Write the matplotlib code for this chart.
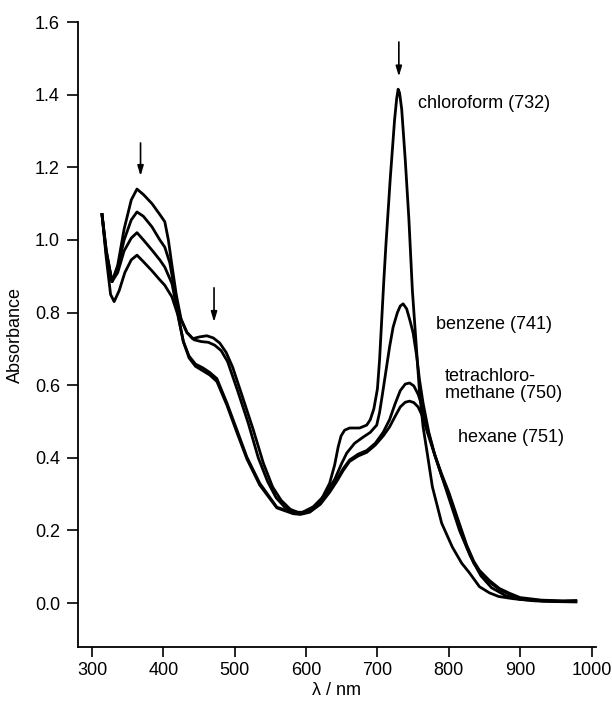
import matplotlib
matplotlib.use("Agg")
import matplotlib.pyplot as plt

# absorbance spectra (wavelength in nm)
wl_chloroform = [314, 320, 328, 336, 345, 355, 363, 372, 384, 395,
                 402, 407, 412, 418, 425, 433, 441, 451, 461, 470,
                 479, 488, 497, 511, 526, 540, 553, 565, 578, 591,
                 605, 620, 633, 640, 645, 649, 654, 661, 675, 685,
                 690, 695, 700, 703, 706, 709, 712, 718, 724, 727,
                 729, 731, 734, 739, 744, 749, 754, 759, 764, 770,
                 777, 790, 805, 818, 829, 843, 857, 870, 890, 920,
                 950, 978]
abs_chloroform = [1.07, 0.97, 0.885, 0.93, 1.03, 1.11, 1.14, 1.125, 1.10, 1.07,
                  1.05, 1.0, 0.93, 0.85, 0.78, 0.745, 0.728, 0.733, 0.736, 0.73,
                  0.716, 0.69, 0.65, 0.567, 0.477, 0.386, 0.32, 0.283, 0.258, 0.248,
                  0.255, 0.28, 0.33, 0.38, 0.43, 0.46, 0.476, 0.482, 0.482, 0.49,
                  0.505, 0.535, 0.59, 0.67, 0.78, 0.89, 0.99, 1.17, 1.33, 1.39,
                  1.415, 1.405, 1.36, 1.22, 1.06, 0.86, 0.72, 0.58, 0.485, 0.41,
                  0.32, 0.22, 0.154, 0.11, 0.083, 0.045, 0.028, 0.018, 0.012, 0.006,
                  0.004, 0.003]

wl_benzene = [314, 320, 328, 336, 345, 355, 363, 372, 384, 395,
              402, 409, 415, 423, 433, 443, 453, 463, 472, 481,
              490, 504, 519, 533, 546, 558, 571, 584, 595, 610,
              625, 640, 650, 657, 668, 680, 690, 699, 703, 707,
              712, 717, 722, 728, 732, 736, 741, 746, 750, 755,
              759, 764, 772, 780, 790, 800, 815, 830, 845, 860,
              880, 900, 930, 960, 978]
abs_benzene = [1.07, 0.97, 0.885, 0.925, 1.0, 1.055, 1.077, 1.065, 1.036, 1.0,
               0.98, 0.937, 0.87, 0.79, 0.745, 0.725, 0.72, 0.718, 0.71, 0.695,
               0.665, 0.585, 0.495, 0.40, 0.335, 0.29, 0.262, 0.25, 0.25, 0.265,
               0.295, 0.34, 0.385, 0.413, 0.44, 0.457, 0.47, 0.49, 0.525, 0.575,
               0.64, 0.705, 0.76, 0.80, 0.818, 0.824, 0.81, 0.775, 0.744, 0.68,
               0.614, 0.55, 0.47, 0.41, 0.35, 0.29, 0.20, 0.13, 0.075, 0.042,
               0.02, 0.01, 0.006, 0.005, 0.005]

wl_tetra = [314, 320, 328, 336, 345, 355, 363, 372, 384, 395,
            402, 412, 420, 428, 436, 445, 455, 465, 475, 489,
            503, 517, 535, 559, 582, 592, 605, 620, 633, 643,
            652, 661, 673, 685, 697, 708, 717, 725, 732, 739,
            745, 751, 757, 763, 770, 780, 790, 800, 812, 825,
            835, 843, 857, 871, 885, 900, 930, 960, 978]
abs_tetra = [1.07, 0.96, 0.885, 0.91, 0.97, 1.005, 1.02, 1.0, 0.972, 0.945,
             0.925, 0.88, 0.80, 0.72, 0.68, 0.658, 0.648, 0.635, 0.618, 0.551,
             0.477, 0.402, 0.33, 0.264, 0.248, 0.246, 0.252, 0.275, 0.31, 0.34,
             0.37, 0.394, 0.41, 0.42, 0.44, 0.47, 0.505, 0.55, 0.585, 0.603,
             0.606, 0.598, 0.575, 0.54, 0.48, 0.41, 0.35, 0.30, 0.23, 0.155,
             0.11, 0.085, 0.058, 0.037, 0.024, 0.013, 0.006, 0.004, 0.004]

wl_hexane = [314, 320, 326, 331, 338, 346, 355, 363, 372, 384,
             395, 402, 412, 420, 428, 436, 445, 455, 465, 475,
             489, 503, 517, 535, 559, 582, 592, 605, 620, 633,
             643, 652, 661, 673, 685, 697, 708, 717, 725, 732,
             739, 745, 751, 757, 763, 770, 780, 790, 800, 812,
             825, 835, 843, 857, 871, 885, 900, 930, 960, 978]
abs_hexane = [1.07, 0.95, 0.85, 0.83, 0.86, 0.91, 0.945, 0.958, 0.94, 0.915,
              0.89, 0.875, 0.843, 0.795, 0.72, 0.675, 0.652, 0.64, 0.628, 0.61,
              0.545, 0.47, 0.397, 0.325, 0.262, 0.246, 0.244, 0.25, 0.272, 0.305,
              0.335, 0.365, 0.39, 0.405, 0.415, 0.435, 0.46, 0.485, 0.515, 0.54,
              0.553, 0.556, 0.552, 0.54, 0.515, 0.47, 0.41, 0.355, 0.305, 0.235,
              0.16, 0.115, 0.09, 0.062, 0.04, 0.027, 0.015, 0.008, 0.006, 0.007]

labels = ["chloroform (732)", "benzene (741)", "tetrachloro-\nmethane (750)", "hexane (751)"]
label_pos = [(757, 1.377), (782, 0.766), (794, 0.60), (813, 0.457)]
arrow_wl = [368, 471, 730]
arrow_top = [1.267, 0.868, 1.545]
arrow_tip = [1.176, 0.774, 1.45]

xticks = [300, 400, 500, 600, 700, 800, 900, 1000]
yticks = [0.0, 0.2, 0.4, 0.6, 0.8, 1.0, 1.2, 1.4, 1.6]

plt.rcParams["font.family"] = ["Liberation Sans", "DejaVu Sans"]

fig = plt.figure(figsize=(6.12, 7.06), dpi=100)
ax = fig.add_axes([0.1275, 0.0836, 0.846, 0.8852])

for wl, ab in [(wl_chloroform, abs_chloroform), (wl_benzene, abs_benzene),
               (wl_tetra, abs_tetra), (wl_hexane, abs_hexane)]:
    ax.plot(wl, ab, color="black", lw=2.0, solid_joinstyle="round")

for txt, (x, y) in zip(labels, label_pos):
    ax.text(x, y, txt, fontsize=13, ha="left", va="center", linespacing=1.05)

for x, y0, y1 in zip(arrow_wl, arrow_top, arrow_tip):
    ax.annotate("", xy=(x, y1), xytext=(x, y0),
                arrowprops=dict(arrowstyle="-|>,head_width=0.18,head_length=0.6",
                                color="black", lw=1.2, shrinkA=0, shrinkB=0))

ax.set_xlim(280.4, 1006)
ax.set_ylim(-0.121, 1.6)
ax.set_xticks(xticks)
ax.set_yticks(yticks)
ax.set_yticklabels([f"{v:.1f}" for v in yticks])
ax.tick_params(direction="out", length=7, width=1.2, labelsize=13, pad=4)
ax.tick_params(axis="y", length=8, pad=5)

for side in ["top", "right"]:
    ax.spines[side].set_visible(False)
for side in ["left", "bottom"]:
    ax.spines[side].set_linewidth(1.3)

ax.set_xlabel("λ / nm", fontsize=13, labelpad=2)
ax.set_ylabel("Absorbance", fontsize=13, labelpad=8)

fig.savefig("out.png", dpi=100)
